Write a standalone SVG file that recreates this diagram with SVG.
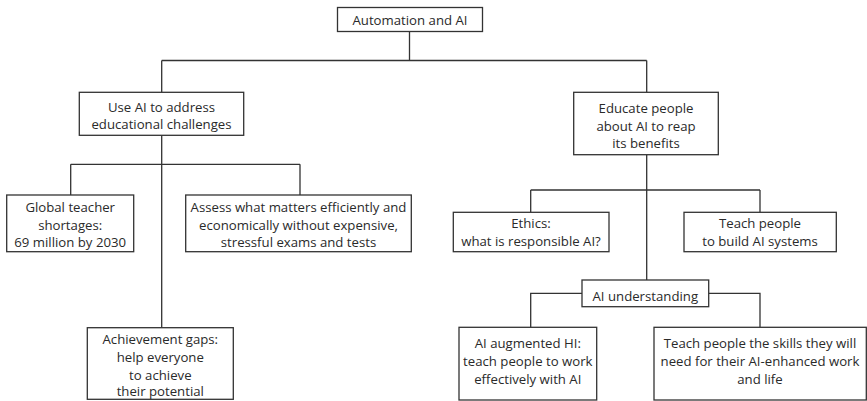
<svg xmlns="http://www.w3.org/2000/svg" width="867" height="401" viewBox="0 0 867 401">
<style>
.box{fill:#fff;stroke:#333;stroke-width:1.3}
.ln{fill:none;stroke:#333;stroke-width:1.3}
text{font-family:"Open Sans","Liberation Sans",Arial,sans-serif;font-size:13.2px;fill:#2a2a2a;text-anchor:middle}
</style>
<rect width="867" height="401" fill="#fff"/>
<g id="connectors">
<path class="ln" d="M409.5 31.5V60.5M161.7 60.5H646.7M161.7 60.5V92.3M646.7 60.5V92.3"/>
<path class="ln" d="M161.7 135.3V327.7M70.7 164.3H300M70.7 164.3V195M300 164.3V195"/>
<path class="ln" d="M646.7 154.7V280M530.7 190H760M530.7 190V212.3M760 190V212.3"/>
<path class="ln" d="M582 293.3H530.7V327.3M708.7 293.3H760V327.3"/>
</g>
<g id="root"><rect class="box" x="337.5" y="7.5" width="145" height="24"/><text x="410" y="25">Automation and AI</text></g>
<g id="useAI"><rect class="box" x="79.3" y="92.3" width="164.4" height="43"/><text x="161.5" y="111.5">Use AI to address</text><text x="161.5" y="128.5">educational challenges</text></g>
<g id="educate"><rect class="box" x="573.7" y="92.3" width="144.6" height="62.4"/><text x="646" y="112.5">Educate people</text><text x="646" y="130.5">about AI to reap</text><text x="646" y="147.5">its benefits</text></g>
<g id="global"><rect class="box" x="6.7" y="195" width="127" height="56.7"/><text x="70.2" y="211.5">Global teacher</text><text x="70.2" y="229.5">shortages:</text><text x="70.2" y="247">69 million by 2030</text></g>
<g id="assess"><rect class="box" x="185.7" y="195" width="225.6" height="56.7"/><text x="298.5" y="211.5">Assess what matters efficiently and</text><text x="298.5" y="229.5">economically without expensive,</text><text x="298.5" y="247">stressful exams and tests</text></g>
<g id="achievement"><rect class="box" x="87.3" y="327.7" width="146" height="71.6"/><text x="160.3" y="344">Achievement gaps:</text><text x="160.3" y="361.5">help everyone</text><text x="160.3" y="379.5">to achieve</text><text x="160.3" y="396">their potential</text></g>
<g id="ethics"><rect class="box" x="453.3" y="212.3" width="155.7" height="39.4"/><text x="531" y="228">Ethics:</text><text x="531" y="245.5">what is responsible AI?</text></g>
<g id="build"><rect class="box" x="684" y="212.3" width="152.3" height="39.4"/><text x="760" y="228">Teach people</text><text x="760" y="245.5">to build AI systems</text></g>
<g id="understanding"><rect class="box" x="582" y="280" width="126.7" height="26.7"/><text x="645.3" y="300.5">AI understanding</text></g>
<g id="augmented"><rect class="box" x="459" y="327.3" width="137.7" height="72.7"/><text x="527.8" y="348">AI augmented HI:</text><text x="527.8" y="365.8">teach people to work</text><text x="527.8" y="384">effectively with AI</text></g>
<g id="skills"><rect class="box" x="654" y="327.3" width="212.3" height="72.7"/><text x="760" y="348">Teach people the skills they will</text><text x="760" y="365.8">need for their AI-enhanced work</text><text x="760" y="384">and life</text></g>
</svg>
